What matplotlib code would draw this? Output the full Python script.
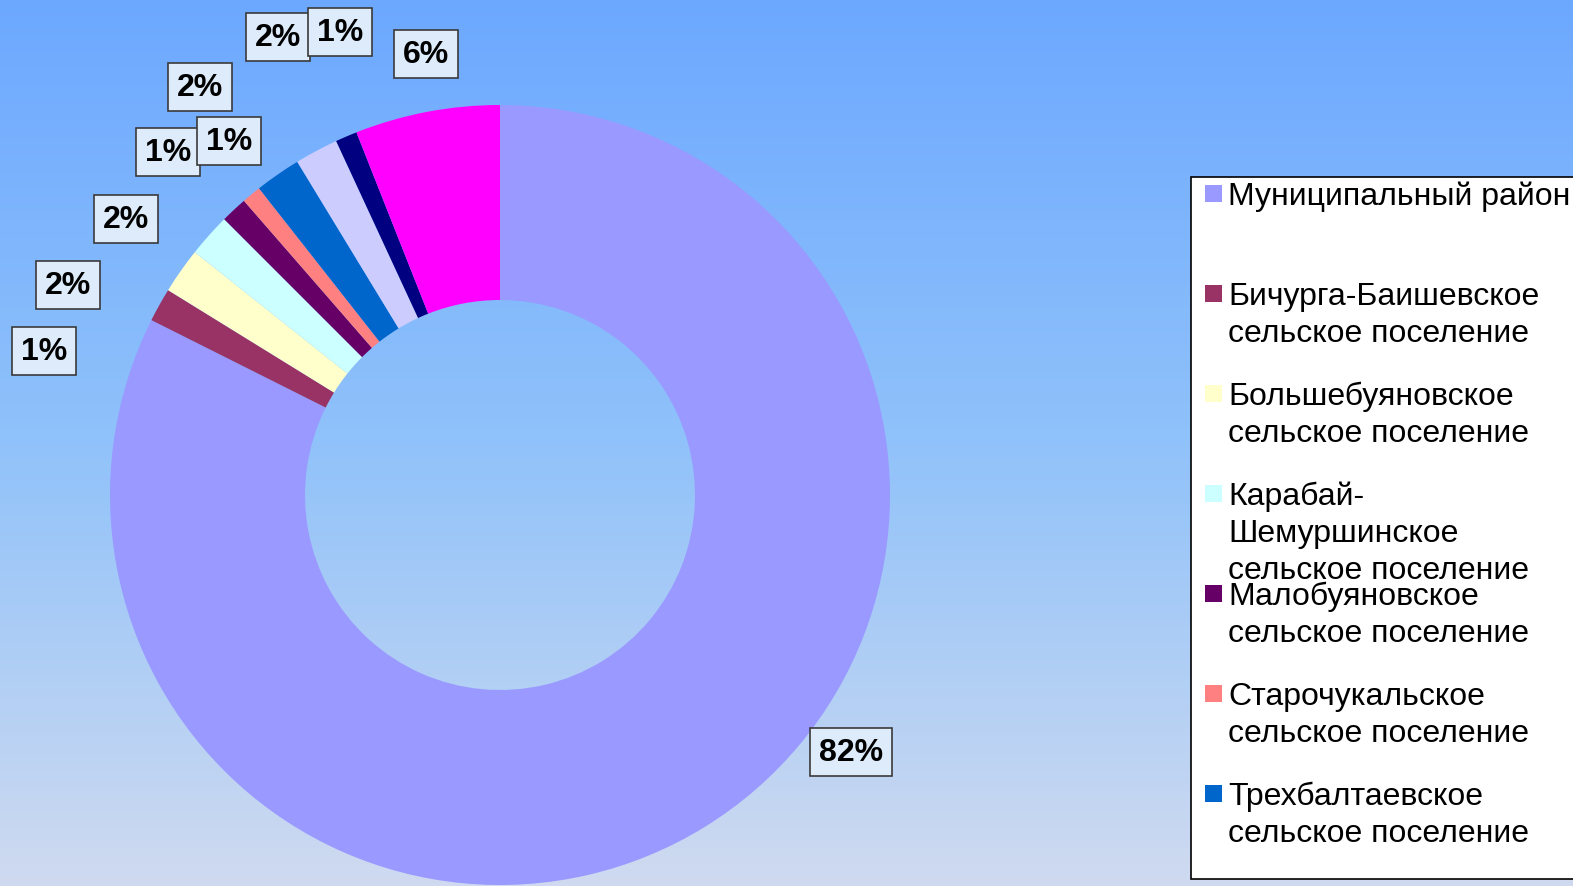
import numpy as np
import matplotlib
matplotlib.use("Agg")
import matplotlib.pyplot as plt
from matplotlib.colors import LinearSegmentedColormap
from matplotlib.patches import Rectangle

# ===== Данные =====
names = [
    "Муниципальный район",
    "Бичурга-Баишевское\nсельское поселение",
    "Большебуяновское\nсельское поселение",
    "Карабай-\nШемуршинское\nсельское поселение",
    "Малобуяновское\nсельское поселение",
    "Старочукальское\nсельское поселение",
    "Трехбалтаевское\nсельское поселение",
    "Чепкас-Никольское\nсельское поселение",
    "Чукальское\nсельское поселение",
    "Шемуршинское\nсельское поселение",
]
shares = [82.4, 1.4, 1.9, 1.8, 1.1, 0.8, 1.9, 1.8, 0.9, 6.0]
colors = ["#9999FF", "#993366", "#FFFFCC", "#CCFFFF", "#660066",
          "#FF8080", "#0066CC", "#CCCCFF", "#000080", "#FF00FF"]
shown_in_legend = 7

# позиции подписей (в пикселях картинки, от левого верхнего угла)
label_pos = [(851, 753), (44, 352), (68, 286), (126, 220), (168, 153),
             (229, 142), (200, 88), (278, 38), (340, 33), (426, 55)]

W, H = 1573, 887
fig = plt.figure(figsize=(W / 100, H / 100), dpi=100)
ax = fig.add_axes([0, 0, 1, 1])

# ===== Фон =====
bg = LinearSegmentedColormap.from_list(
    "bg", [(0, "#CFDAF0"), (0.5, "#90C2FA"), (1, "#6CA8FF")])
grad = np.linspace(0, 1, 256).reshape(-1, 1)
ax.imshow(grad, cmap=bg, origin="lower", extent=[0, W, 0, H],
          aspect="auto", zorder=0)

# ===== Кольцевая диаграмма =====
cx, cy, r = 500, H - 496, 390
explode = [0.0] + [0.018] * (len(shares) - 1)
wedges, _ = ax.pie(shares, colors=colors, startangle=90, counterclock=False,
                   radius=r, center=(cx, cy), explode=explode,
                   wedgeprops=dict(width=r * 0.5, linewidth=0))
for w in wedges:
    w.set_zorder(2)

total = sum(shares)
for val, (lx, ly) in zip(shares, label_pos):
    ax.text(lx, H - ly, f"{round(val / total * 100):.0f}%",
            ha="center", va="center", fontsize=23, fontweight="bold",
            family="Liberation Sans", zorder=5,
            bbox=dict(boxstyle="square,pad=0.27", fc="#DDEBFA",
                      ec="#3A3A3A", lw=1.2))

ax.set_xlim(0, W)
ax.set_ylim(0, H)
ax.set_aspect("auto")
ax.axis("off")

# ===== Легенда =====
ax.add_patch(Rectangle((1191, H - 880), 420, 702, fc="white", ec="black",
                       lw=1.2, zorder=3))
for i in range(shown_in_legend):
    base = 205 + 100 * i
    ax.add_patch(Rectangle((1205, H - base + 2), 17, 17, fc=colors[i],
                           ec="none", zorder=4))
    for j, line in enumerate(names[i].split("\n")):
        ax.text(1228, H - (base + 37 * j), line, fontsize=23,
                family="Liberation Sans", va="baseline", ha="left", zorder=4)

fig.savefig("out.png", dpi=100)
